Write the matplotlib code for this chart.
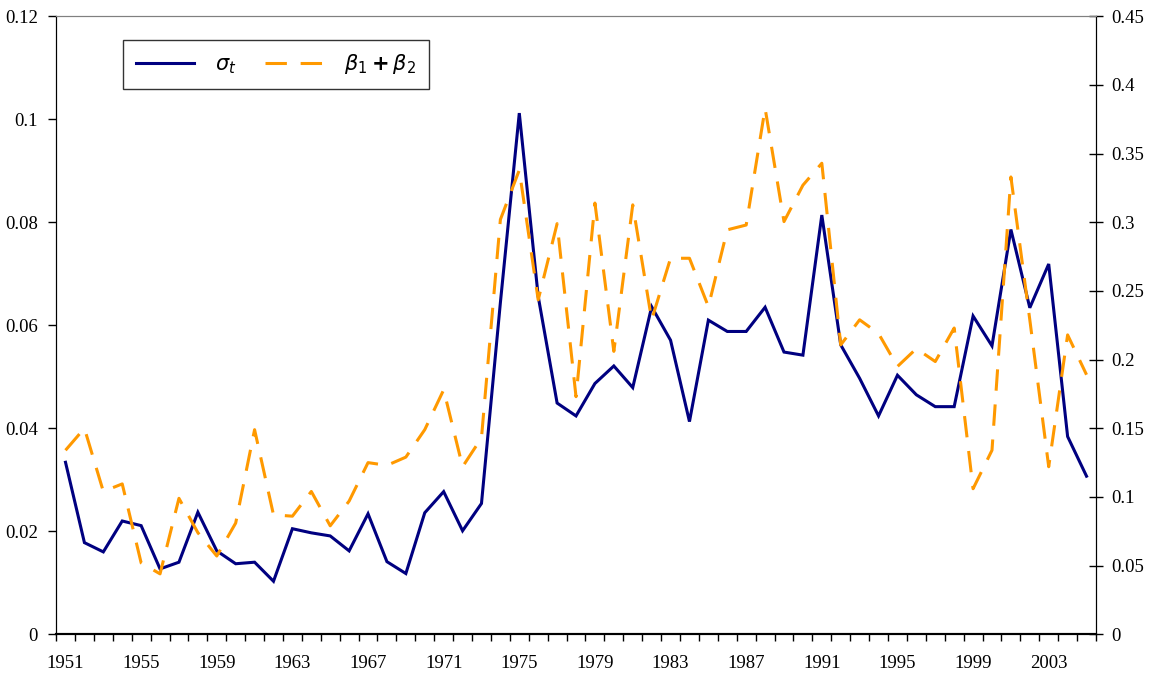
import numpy as np
import matplotlib
matplotlib.use("Agg")
import matplotlib.pyplot as plt

# data
years = list(range(1951, 2006))

sigma_t = [
    0.0334, 0.0178, 0.0160, 0.0220, 0.0211, 0.0127, 0.0140, 0.0237, 0.0162, 0.0137,
    0.0140, 0.0103, 0.0205, 0.0197, 0.0191, 0.0162, 0.0234, 0.0141, 0.0118, 0.0236,
    0.0277, 0.0201, 0.0254, 0.0644, 0.1012, 0.0656, 0.0449, 0.0424, 0.0487, 0.0521,
    0.0479, 0.0636, 0.0571, 0.0413, 0.0610, 0.0588, 0.0588, 0.0635, 0.0548, 0.0542,
    0.0814, 0.0562, 0.0497, 0.0424, 0.0503, 0.0465, 0.0442, 0.0442, 0.0618, 0.0560,
    0.0786, 0.0634, 0.0719, 0.0384, 0.0307,
]

beta_sum = [
    0.134, 0.150, 0.104, 0.1095, 0.052, 0.044, 0.099, 0.074, 0.057, 0.081,
    0.149, 0.087, 0.086, 0.104, 0.079, 0.097, 0.125, 0.123, 0.129, 0.149,
    0.178, 0.122, 0.143, 0.302, 0.338, 0.2435, 0.299, 0.173, 0.314, 0.206,
    0.3127, 0.229, 0.2738, 0.2738, 0.2386, 0.2945, 0.298, 0.383, 0.3005, 0.327,
    0.343, 0.2107, 0.229, 0.219, 0.195, 0.208, 0.1986, 0.223, 0.106, 0.134,
    0.333, 0.229, 0.122, 0.218, 0.189,
]

label_years = list(range(1951, 2006, 4))
left_ticks = [0, 0.02, 0.04, 0.06, 0.08, 0.1, 0.12]
left_labels = ["0", "0.02", "0.04", "0.06", "0.08", "0.1", "0.12"]
right_ticks = [0, 0.05, 0.1, 0.15, 0.2, 0.25, 0.3, 0.35, 0.4, 0.45]
right_labels = ["0", "0.05", "0.1", "0.15", "0.2", "0.25", "0.3", "0.35", "0.4", "0.45"]

NAVY = "#000080"
ORANGE = "#FF9900"

plt.rcParams["font.family"] = ["Liberation Serif", "DejaVu Serif"]
plt.rcParams["mathtext.fontset"] = "dejavusans"

fig = plt.figure(figsize=(11.51, 6.75), dpi=100)
ax = fig.add_axes([0.0487, 0.0603, 0.9035, 0.9156])
ax2 = ax.twinx()

line1, = ax.plot(years, sigma_t, color=NAVY, lw=2.2, solid_joinstyle="miter")
line2, = ax2.plot(years, beta_sum, color=ORANGE, lw=2.2, dashes=(7, 4.5))

ax.set_xlim(1950.5, 2005.5)
ax.set_ylim(0, 0.12)
ax2.set_ylim(0, 0.45)

ax.set_xticks(label_years)
ax.set_xticklabels([str(y) for y in label_years])
ax.set_xticks(np.arange(1950.5, 2006, 1.0), minor=True)
ax.tick_params(axis="x", which="major", length=0, pad=15, labelsize=13.5)
ax.tick_params(axis="x", which="minor", length=5, width=1, direction="out")

ax.set_yticks(left_ticks)
ax.set_yticklabels(left_labels)
ax.tick_params(axis="y", length=6, width=1, direction="out", labelsize=13.5, pad=7)

ax2.set_yticks(right_ticks)
ax2.set_yticklabels(right_labels)
ax2.tick_params(axis="y", length=10, width=1, direction="inout", labelsize=13.5, pad=6)

for a in (ax, ax2):
    a.spines["top"].set_color("#808080")
    a.spines["left"].set_color("black")
    a.spines["right"].set_color("black")
    a.spines["bottom"].set_color("black")
    a.spines["bottom"].set_linewidth(1.5)

leg = ax2.legend([line1, line2],
                 [r"$\boldsymbol{\sigma_t}$", r"$\boldsymbol{\beta_1 + \beta_2}$"],
                 loc="upper left", bbox_to_anchor=(0.0644, 0.9617),
                 ncol=2, frameon=True, fancybox=False,
                 handlelength=2.8, handletextpad=1.0, columnspacing=1.4,
                 borderpad=0.6, borderaxespad=0,
                 prop={"size": 15})
leg.get_frame().set_edgecolor("black")
leg.get_frame().set_linewidth(1.0)

fig.savefig("out.png", dpi=100)
